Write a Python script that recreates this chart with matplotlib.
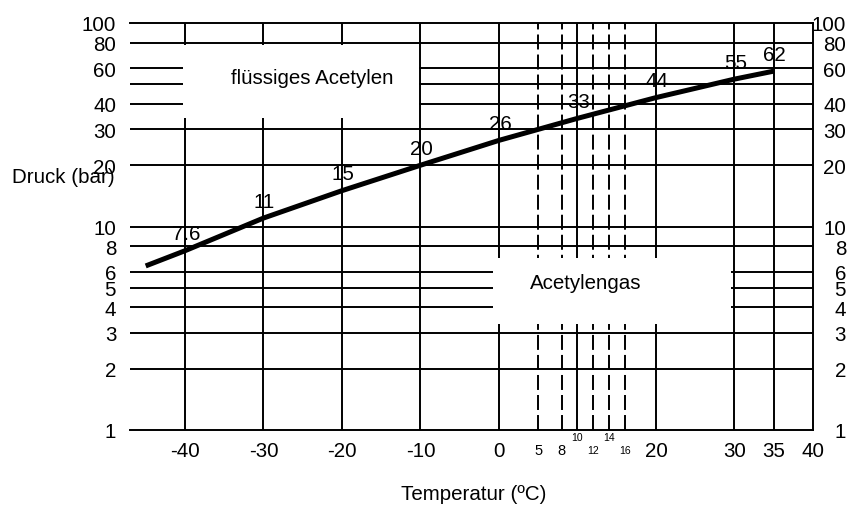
import matplotlib
matplotlib.use("Agg")
import matplotlib.pyplot as plt
from matplotlib.patches import Rectangle
from matplotlib.transforms import blended_transform_factory
from matplotlib.ticker import FixedLocator, NullLocator

plt.rcParams["font.family"] = ["Liberation Sans", "DejaVu Sans"]

# vapour pressure curve of acetylene
temps = [-45, -40, -30, -20, -10, 0, 10, 20, 30, 35]
pressure = [6.4, 7.6, 11, 15, 20, 26.5, 34, 43, 53, 58]

# numbers written along the curve
label_temps = [-40, -30, -20, -10, 0, 10, 20, 30, 35]
label_texts = ["7.6", "11", "15", "20", "26", "33", "44", "55", "62"]

# grid
grid_pressures = [2, 3, 4, 5, 6, 8, 10, 20, 30, 40, 50, 60, 80]
solid_temps = [-40, -30, -20, -10, 0, 10, 20, 30, 35]
dashed_temps = [5, 8, 12, 14, 16]

ytick_vals = [1, 2, 3, 4, 5, 6, 8, 10, 20, 30, 40, 60, 80, 100]
xtick_vals = [-40, -30, -20, -10, 0, 20, 30, 35, 40]
mid_ticks = [5, 8]
small_low = [12, 16]
small_high = [10, 14]

FS = 14.8
LW = 1.4

fig = plt.figure(figsize=(8.49, 5.06), dpi=100)
ax = fig.add_axes([130 / 849, 1 - 431 / 506, 683 / 849, 407 / 506])
ax.set_yscale("log")
ax.set_xlim(-47, 40)
ax.set_ylim(1, 100)

for p in grid_pressures:
    ax.axhline(p, color="black", lw=LW, zorder=1)
for t in solid_temps:
    ax.axvline(t, color="black", lw=LW, zorder=1)
for t in dashed_temps:
    ax.axvline(t, color="black", lw=LW, ls=(0, (7.7, 2.6)), zorder=1)

# white label boxes that blank out the grid
ax.add_patch(Rectangle((-40.3, 34), 30.15, 78 - 34, facecolor="white",
                       edgecolor="none", zorder=2))
ax.add_patch(Rectangle((-0.7, 3.3), 30.2, 7.0 - 3.3, facecolor="white",
                       edgecolor="none", zorder=2))

ax.plot(temps, pressure, color="black", lw=3.6, solid_capstyle="butt",
        zorder=3)

for t, s in zip(label_temps, label_texts):
    p = pressure[temps.index(t)]
    ax.annotate(s, (t, p), xytext=(1, 17), textcoords="offset pixels",
                ha="center", va="center", fontsize=FS, zorder=4)

ax.text(0.2665, 0.865, "flüssiges Acetylen", transform=ax.transAxes,
        ha="center", va="center", fontsize=FS, zorder=4)
ax.text(0.6676, 0.363, "Acetylengas", transform=ax.transAxes,
        ha="center", va="center", fontsize=FS, zorder=4)

# frame: top, bottom and right only
ax.spines["left"].set_visible(False)
for side in ["top", "bottom", "right"]:
    ax.spines[side].set_linewidth(LW)

ax.yaxis.set_major_locator(FixedLocator(ytick_vals))
ax.yaxis.set_minor_locator(NullLocator())
ax.set_yticklabels([str(v) for v in ytick_vals])
ax.tick_params(axis="y", which="both", length=0, labelsize=FS, pad=10,
               right=True, labelright=True)
# right-hand labels are right-aligned near the picture edge
ytrans = blended_transform_factory(ax.transAxes, ax.transData)
for tk in ax.yaxis.get_major_ticks():
    tk.label2.set_horizontalalignment("right")
    tk.label2.set_transform(ytrans)
    tk.label2.set_x(1.0 + 33 / 683)

ax.xaxis.set_major_locator(FixedLocator(xtick_vals))
ax.set_xticklabels([str(v) for v in xtick_vals])
ax.tick_params(axis="x", length=0, labelsize=FS, pad=8)

xtrans = blended_transform_factory(ax.transData, ax.transAxes)
for t in mid_ticks:
    ax.text(t, -0.049, str(t), transform=xtrans, ha="center", va="center",
            fontsize=10.5)
for t in small_low:
    ax.text(t, -0.049, str(t), transform=xtrans, ha="center", va="center",
            fontsize=7.5)
for t in small_high:
    ax.text(t, -0.018, str(t), transform=xtrans, ha="center", va="center",
            fontsize=7.5)

ax.set_ylabel("Druck (bar)", rotation=0, ha="left", va="center", fontsize=FS)
ax.yaxis.set_label_coords(-0.1728, 0.624)
ax.set_xlabel("Temperatur (ºC)", fontsize=FS, va="center")
ax.xaxis.set_label_coords(0.5037, -0.157)

fig.savefig("out.png", dpi=100)
